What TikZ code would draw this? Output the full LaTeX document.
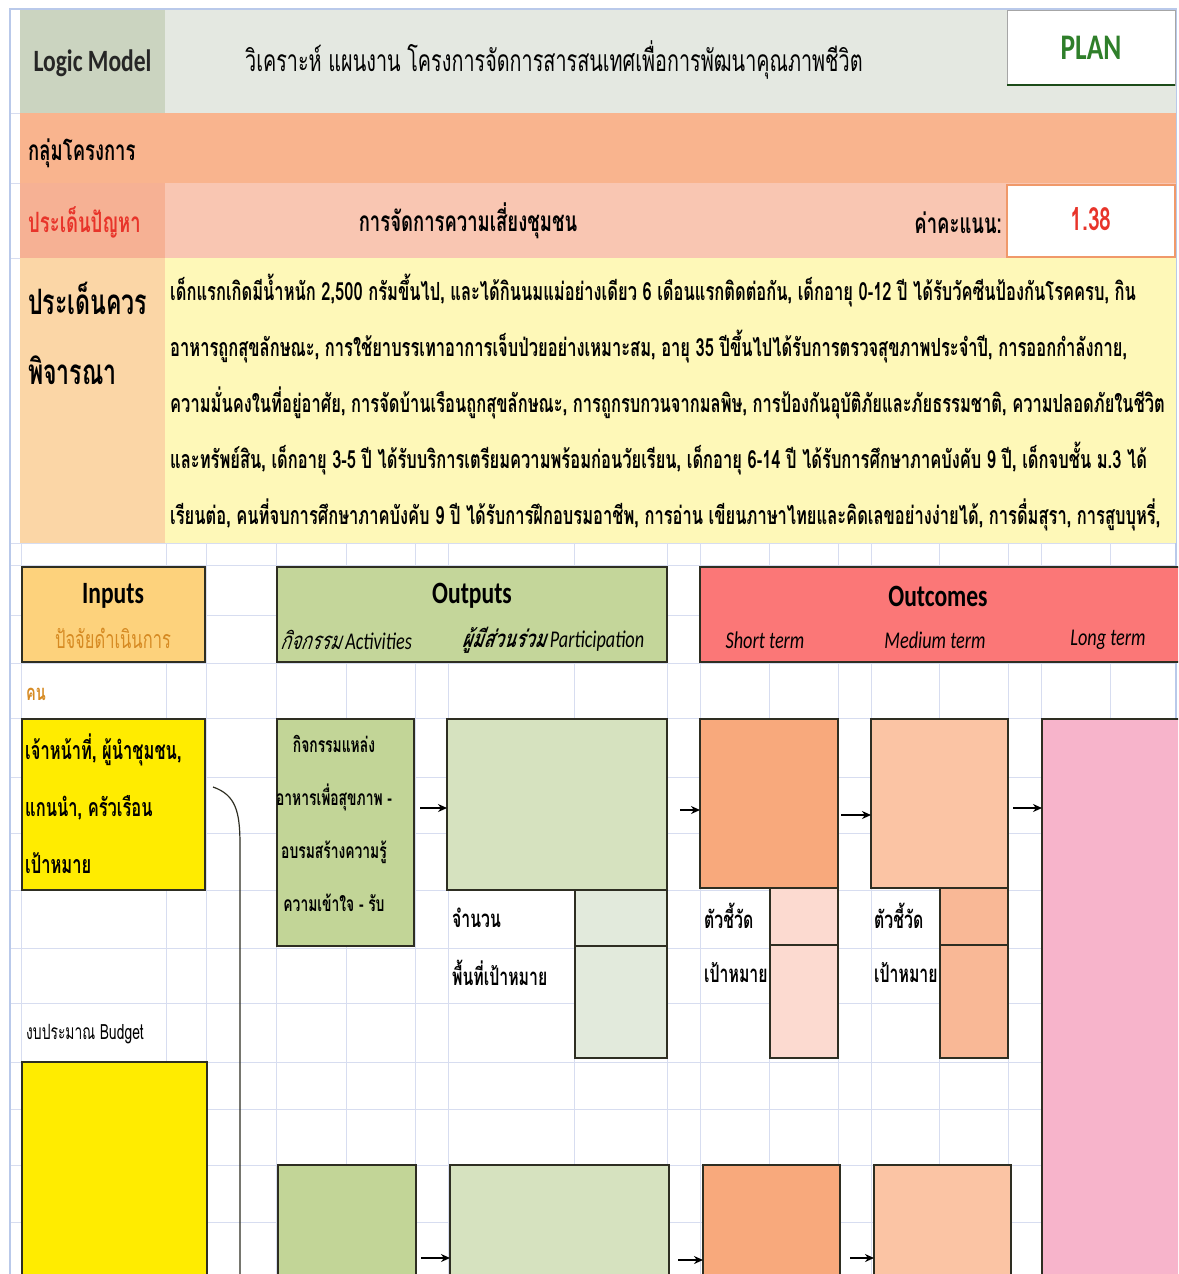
\documentclass[tikz,border=0pt]{standalone}
\usepackage{fontspec}
\setmainfont{Carlito}[FakeStretch=0.76]
\newfontfamily\thaif[Script=Thai,FakeStretch=0.66]{Loma}
\newfontfamily\thaislant[Script=Thai,FakeStretch=0.72,FakeSlant=0.18]{Loma}
\usetikzlibrary{arrows.meta}
\definecolor{gridblue}{HTML}{D7DDF0}
\definecolor{frameblue}{HTML}{B9C9EA}
\definecolor{boxline}{HTML}{2E2E22}
\definecolor{headleft}{HTML}{CBD4C0}
\definecolor{headmain}{HTML}{E4E8E1}
\definecolor{plangreen}{HTML}{2F7F2A}
\definecolor{grouprow}{HTML}{F9B48E}
\definecolor{probleft}{HTML}{F6B194}
\definecolor{probmain}{HTML}{F9C6B2}
\definecolor{scoreline}{HTML}{F0996A}
\definecolor{scorered}{HTML}{E8342A}
\definecolor{consleft}{HTML}{FBD6A6}
\definecolor{consmain}{HTML}{FEF8B8}
\definecolor{inhead}{HTML}{FDD27C}
\definecolor{outhead}{HTML}{C4D69A}
\definecolor{ochead}{HTML}{FB7777}
\definecolor{inyellow}{HTML}{FFEC00}
\definecolor{actgreen}{HTML}{C2D597}
\definecolor{partgreen}{HTML}{D6E2BF}
\definecolor{partsmall}{HTML}{E2EADC}
\definecolor{shortor}{HTML}{F8A97C}
\definecolor{shortsmall}{HTML}{FCDAD0}
\definecolor{medpeach}{HTML}{FBC4A4}
\definecolor{medsmall}{HTML}{F9B896}
\definecolor{longpink}{HTML}{F7B4CB}
\definecolor{inbrown}{HTML}{D68A22}

\begin{document}
\begin{tikzpicture}[x=1pt,y=-1pt,
  gridline/.style={gridblue, line width=0.8pt},
  cell/.style={anchor=north west, inner sep=0pt, outer sep=0pt},
  box/.style={cell, draw=boxline, line width=1.4pt},
  th/.style={inner sep=0pt, font=\thaif\bfseries\fontsize{#1}{#1}\selectfont},
  th/.default=24,
  arr/.style={-{Stealth[length=9pt,width=8pt]}, line width=2pt, black}]
\useasboundingbox (0,0) rectangle (1178,1274);
\clip (0,0) rectangle (1178,1274);
\fill[white] (0,0) rectangle (1178,1274);

% spreadsheet grid
\foreach \x in {21,166,206,276,346,415,448,574,667,700,769,838,871,939,1008,1041,1110,1176}
  \draw[gridline] (\x,543) -- (\x,1274);
\foreach \y in {113,183,258,543,565,615,663,718,777,833,890,948,1003,1062,1109,1165,1222}
  \draw[gridline] (11,\y) -- (1176,\y);
\draw[frameblue, line width=1.6pt] (10,1274) -- (10,9) -- (1176,9) -- (1176,1274);

% header rows
\node[cell, fill=headleft, minimum width=145pt, minimum height=103pt] (lmcell) at (20,10) {};
\node[cell, fill=headmain, minimum width=1011pt, minimum height=103pt] (titlecell) at (165,10) {};
\node[cell, fill=white, draw=black!35, line width=0.8pt, minimum width=168pt, minimum height=75pt] (plancell) at (1007,10) {};
\draw[plangreen!60!black, line width=1.6pt] (plancell.south west) -- (plancell.south east);
\node[font=\bfseries\fontsize{31}{31}\selectfont, text=black!85] (lm) at (lmcell.center |- 0,63) {Logic Model};
\node[th=30, font=\thaif\fontsize{30}{30}\selectfont, anchor=west] (title) at (245,60) {วิเคราะห์ แผนงาน โครงการจัดการสารสนเทศเพื่อการพัฒนาคุณภาพชีวิต};
\node[font=\bfseries\fontsize{36}{36}\selectfont, text=plangreen] (plan) at (plancell.center) {PLAN};

\node[cell, fill=grouprow, minimum width=1156pt, minimum height=70pt] (grouprowcell) at (20,113) {};
\node[th=28, anchor=west] (group) at (28,153) {กลุ่มโครงการ};

\node[cell, fill=probleft, minimum width=145pt, minimum height=75pt] (probleftcell) at (20,183) {};
\node[cell, fill=probmain, minimum width=1011pt, minimum height=75pt] (probcell) at (165,183) {};
\node[cell, fill=white, draw=scoreline, line width=1.6pt, minimum width=168pt, minimum height=72pt] (scorecell) at (1007,185) {};
\node[th=28, anchor=west, text=scorered] (prob) at (28,222) {ประเด็นปัญหา};
\node[th=28] (probtext) at (468,221) {การจัดการความเสี่ยงชุมชน};
\node[th=28, anchor=east] (scorelbl) at (1002,223) {ค่าคะแนน:};
\node[th=32, text=scorered] (score) at ([yshift=2pt]scorecell.center) {1.38};

\node[cell, fill=consleft, minimum width=145pt, minimum height=285pt] (consleftcell) at (20,258) {};
\node[cell, fill=consmain, minimum width=1011pt, minimum height=285pt] (conscell) at (165,258) {};
\node[th=35, anchor=west] (cons1) at (28,298) {ประเด็นควร};
\node[th=35, anchor=west] (cons2) at (28,370) {พิจารณา};
\node[th=25, anchor=west] (para1) at (170,291) {เด็กแรกเกิดมีน้ำหนัก 2,500 กรัมขึ้นไป, และได้กินนมแม่อย่างเดียว 6  เดือนแรกติดต่อกัน, เด็กอายุ 0-12 ปี ได้รับวัคซีนป้องกันโรคครบ, กิน};
\node[th=25, anchor=west] (para2) at (170,347) {อาหารถูกสุขลักษณะ, การใช้ยาบรรเทาอาการเจ็บป่วยอย่างเหมาะสม, อายุ 35 ปีขึ้นไปได้รับการตรวจสุขภาพประจำปี, การออกกำลังกาย,};
\node[th=25, anchor=west] (para3) at (170,403) {ความมั่นคงในที่อยู่อาศัย, การจัดบ้านเรือนถูกสุขลักษณะ, การถูกรบกวนจากมลพิษ, การป้องกันอุบัติภัยและภัยธรรมชาติ, ความปลอดภัยในชีวิต};
\node[th=25, anchor=west] (para4) at (170,459) {และทรัพย์สิน, เด็กอายุ 3-5 ปี ได้รับบริการเตรียมความพร้อมก่อนวัยเรียน, เด็กอายุ 6-14 ปี ได้รับการศึกษาภาคบังคับ 9 ปี, เด็กจบชั้น ม.3 ได้};
\node[th=25, anchor=west] (para5) at (170,515) {เรียนต่อ, คนที่จบการศึกษาภาคบังคับ 9 ปี ได้รับการฝึกอบรมอาชีพ, การอ่าน เขียนภาษาไทยและคิดเลขอย่างง่ายได้, การดื่มสุรา, การสูบบุหรี่,};

% column heads
\node[box, fill=inhead, minimum width=183pt, minimum height=95pt] (inputs) at (22,567) {};
\node[box, fill=outhead, minimum width=390pt, minimum height=95pt] (outputs) at (277,567) {};
\node[box, fill=ochead, minimum width=480pt, minimum height=95pt] (outcomes) at (700,567) {};
\node[font=\bfseries\fontsize{31}{31}\selectfont] (intitle) at (113,596) {Inputs};
\node[text=inbrown, inner sep=0pt, font=\thaif\fontsize{25}{25}\selectfont] (insub) at (113,638) {ปัจจัยดำเนินการ};
\node[font=\bfseries\fontsize{31}{31}\selectfont] (outtitle) at (472,596) {Outputs};
\node[font=\itshape\fontsize{24}{24}\selectfont] (actlbl) at (346,640) {{\thaislant กิจกรรม} Activities};
\node[font=\itshape\fontsize{24}{24}\selectfont] (partlbl) at (553,640) {{\thaislant\bfseries ผู้มีส่วนร่วม} Participation};
\node[font=\bfseries\fontsize{31}{31}\selectfont] (octitle) at (938,596) {Outcomes};
\node[font=\itshape\fontsize{24}{24}\selectfont] (shortlbl) at (765,640) {Short term};
\node[font=\itshape\fontsize{24}{24}\selectfont] (medlbl) at (935,640) {Medium term};
\node[font=\itshape\fontsize{24}{24}\selectfont] (longlbl) at (1108,640) {Long term};

% inputs
\node[th=22, anchor=west, text=inbrown] (people) at (26,694) {คน};
\node[box, fill=inyellow, minimum width=183pt, minimum height=171pt] (staff) at (22,719) {};
\node[anchor=north west, align=left, inner sep=0pt, font=\thaif\bfseries\fontsize{25}{57}\selectfont] (stafftext) at (25,734) {เจ้าหน้าที่, ผู้นำชุมชน,\\แกนนำ, ครัวเรือน\\เป้าหมาย};
\node[anchor=west, inner sep=0pt, font=\thaif\fontsize{21}{21}\selectfont] (budgetlbl) at (26,1034) {งบประมาณ Budget};
\node[box, fill=inyellow, minimum width=185pt, minimum height=240pt] (budget) at (22,1062) {};
\draw[boxline, line width=1.2pt] (213,787) .. controls (236,795) and (240,812) .. (240,845) -- (240,1290);

% outputs
\node[box, fill=actgreen, minimum width=137pt, minimum height=227pt] (act) at (277,719) {};
\node[anchor=north, align=center, inner sep=0pt, font=\thaif\bfseries\fontsize{21}{53}\selectfont] (acttext) at (334,735) {กิจกรรมแหล่ง\\อาหารเพื่อสุขภาพ -\\อบรมสร้างความรู้\\ความเข้าใจ  - รับ};
\node[box, fill=partgreen, minimum width=220pt, minimum height=171pt] (part) at (447,719) {};
\node[box, fill=partsmall, minimum width=92pt, minimum height=56pt] (partnum) at (575,890) {};
\node[box, fill=partsmall, minimum width=92pt, minimum height=112pt] (partarea) at (575,946) {};
\node[th=24, anchor=west] (numlbl) at (452,918) {จำนวน};
\node[th=24, anchor=west] (arealbl) at (452,973) {พื้นที่เป้าหมาย};

% outcomes
\node[box, fill=shortor, minimum width=138pt, minimum height=169pt] (short) at (700,719) {};
\node[box, fill=shortsmall, minimum width=68pt, minimum height=57pt] (shortind) at (770,888) {};
\node[box, fill=shortsmall, minimum width=68pt, minimum height=113pt] (shorttgt) at (770,945) {};
\node[th=24, anchor=west] (shortindlbl) at (704,916) {ตัวชี้วัด};
\node[th=24, anchor=west] (shorttgtlbl) at (704,973) {เป้าหมาย};
\node[box, fill=medpeach, minimum width=137pt, minimum height=169pt] (med) at (871,719) {};
\node[box, fill=medsmall, minimum width=68pt, minimum height=57pt] (medind) at (940,888) {};
\node[box, fill=medsmall, minimum width=68pt, minimum height=113pt] (medtgt) at (940,945) {};
\node[th=24, anchor=west] (medindlbl) at (874,916) {ตัวชี้วัด};
\node[th=24, anchor=west] (medtgtlbl) at (874,973) {เป้าหมาย};
\node[box, fill=longpink, minimum width=140pt, minimum height=580pt] (long) at (1042,719) {};

% second row of boxes
\node[box, fill=actgreen, minimum width=138pt, minimum height=140pt] (act2) at (278,1165) {};
\node[box, fill=partgreen, minimum width=219pt, minimum height=140pt] (part2) at (450,1165) {};
\node[box, fill=shortor, minimum width=137pt, minimum height=140pt] (short2) at (703,1165) {};
\node[box, fill=medpeach, minimum width=137pt, minimum height=140pt] (med2) at (874,1165) {};

% arrows
\draw[arr] ([xshift=6pt]act.east |- 0,808) -- (part.west |- 0,808);
\draw[arr] ([xshift=13pt]part.east |- 0,810) -- (short.west |- 0,810);
\draw[arr] ([xshift=3pt]short.east |- 0,815) -- (med.west |- 0,815);
\draw[arr] ([xshift=5pt]med.east |- 0,808) -- (long.west |- 0,808);
\draw[arr] ([xshift=5pt]act2.east |- 0,1258) -- (part2.west |- 0,1258);
\draw[arr] ([xshift=9pt]part2.east |- 0,1260) -- (short2.west |- 0,1260);
\draw[arr] ([xshift=10pt]short2.east |- 0,1258) -- (med2.west |- 0,1258);
\end{tikzpicture}
\end{document}
